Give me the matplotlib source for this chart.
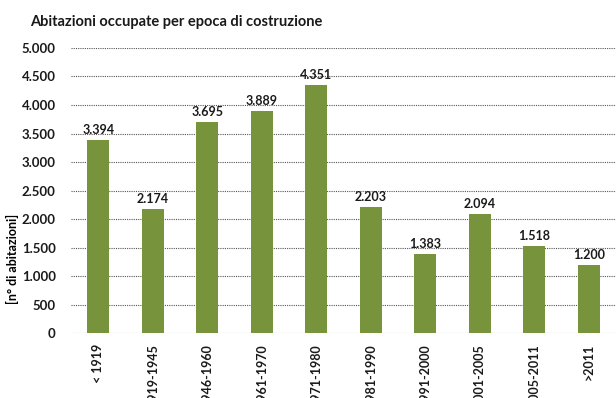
import matplotlib
matplotlib.use("Agg")
import matplotlib.pyplot as plt
from matplotlib.ticker import FuncFormatter

categories = ["< 1919", "1919-1945", "1946-1960", "1961-1970", "1971-1980",
              "1981-1990", "1991-2000", "2001-2005", "2005-2011", ">2011"]
values = [3394, 2174, 3695, 3889, 4351, 2203, 1383, 2094, 1518, 1200]
yticks = [0, 500, 1000, 1500, 2000, 2500, 3000, 3500, 4000, 4500, 5000]

plt.rcParams['font.family'] = ['Lato', 'DejaVu Sans']
plt.rcParams['font.weight'] = 'bold'

def fmt(v):
    return f"{int(v):,}".replace(",", ".")

fig = plt.figure(figsize=(6.16, 3.98), dpi=100)
ax = fig.add_axes([0.1153, 0.1633, 0.8847, 0.7161])

x = range(len(categories))
ax.bar(x, values, width=0.4, color="#77933C", zorder=3)
for xi, v in zip(x, values):
    ax.text(xi, v + 70, fmt(v), ha="center", va="bottom", fontsize=9,
            fontweight="bold", color="#1a1a1a", zorder=4)

ax.set_xlim(-0.5, len(categories) - 0.5)
ax.set_ylim(0, 5000)
ax.set_yticks(yticks)
ax.yaxis.set_major_formatter(FuncFormatter(lambda v, p: fmt(v)))
ax.set_xticks(list(x))
ax.set_xticklabels(categories, rotation=90, fontsize=9, fontweight="bold")
ax.tick_params(axis="both", length=0, pad=8, labelcolor="#1a1a1a")
ax.tick_params(axis="y", labelsize=9.5, pad=11)

ax.yaxis.grid(True, linestyle=(0, (1, 1)), color="#555555", linewidth=0.8, zorder=0)
for s in ax.spines.values():
    s.set_visible(False)

ax.set_ylabel("[n° di abitazioni]", fontsize=9, fontweight="bold")
ax.yaxis.set_label_coords(-0.095, 0.26)

fig.text(0.049, 0.945, "Abitazioni occupate per epoca di costruzione",
         fontsize=10.5, fontweight="bold", ha="left", va="center", color="#1a1a1a")

fig.savefig("out.png", dpi=100)
